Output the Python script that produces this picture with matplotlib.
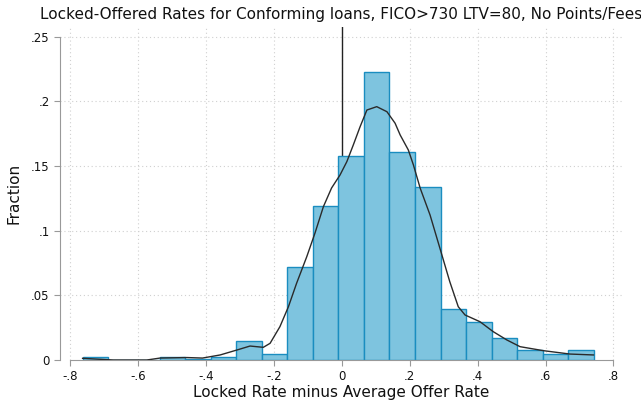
import matplotlib
matplotlib.use("Agg")
import matplotlib.pyplot as plt

# Histogram bins (left edge, width) and heights
bin_start = -0.762
bin_width = 0.0752
fractions = [0.002, 0.0, 0.0, 0.002, 0.001, 0.002, 0.0147, 0.005, 0.0717, 0.119,
             0.158, 0.223, 0.161, 0.1337, 0.0392, 0.0297, 0.0173, 0.0075, 0.0049, 0.0075]

# Kernel density curve points
kde_x = [-0.763, -0.673, -0.574, -0.535, -0.456, -0.41, -0.358, -0.309, -0.270, -0.231,
         -0.211, -0.182, -0.157, -0.133, -0.103, -0.079, -0.054, -0.030, -0.005, 0.015,
         0.034, 0.054, 0.074, 0.103, 0.133, 0.157, 0.172, 0.196, 0.211, 0.231,
         0.260, 0.289, 0.318, 0.343, 0.363, 0.407, 0.446, 0.486, 0.525, 0.594,
         0.672, 0.741]
kde_y = [0.0013, 0.0, 0.0, 0.0015, 0.0019, 0.0015, 0.0039, 0.0077, 0.0108, 0.0098,
         0.0129, 0.0258, 0.0412, 0.0593, 0.0799, 0.098, 0.1186, 0.133, 0.1431, 0.1534,
         0.1663, 0.1804, 0.1933, 0.1959, 0.192, 0.1831, 0.174, 0.1624, 0.1508, 0.1328,
         0.1121, 0.0864, 0.0606, 0.0412, 0.0348, 0.0296, 0.0219, 0.0155, 0.0103, 0.0072,
         0.0046, 0.0039]

xticks = [-0.8, -0.6, -0.4, -0.2, 0.0, 0.2, 0.4, 0.6, 0.8]
xticklabels = ["-.8", "-.6", "-.4", "-.2", "0", ".2", ".4", ".6", ".8"]
yticks = [0, 0.05, 0.1, 0.15, 0.2, 0.25]
yticklabels = ["0", ".05", ".1", ".15", ".2", ".25"]

title = "Locked-Offered Rates for Conforming loans, FICO>730 LTV=80, No Points/Fees"
xlabel = "Locked Rate minus Average Offer Rate"
ylabel = "Fraction"

W, H = 641, 401
fig = plt.figure(figsize=(W / 100, H / 100), dpi=100)
ax = fig.add_axes([60 / W, (H - 360) / H, (623 - 60) / W, (360 - 27) / H])

ax.set_xlim(-0.8295, 0.828)
ax.set_ylim(0, 0.2575)

# grid
for xt in xticks:
    ax.axvline(xt, color="#d0d0d0", lw=0.8, ls=(0, (1, 2.5)), zorder=0)
for yt in yticks[1:]:
    ax.axhline(yt, color="#d0d0d0", lw=0.8, ls=(0, (1, 2.5)), zorder=0)

# reference line at 0 (behind bars)
ax.axvline(0, color="#222222", lw=1.0, zorder=1)

lefts = [bin_start + i * bin_width for i in range(len(fractions))]
ax.bar(lefts, fractions, width=bin_width, align="edge", color="#7ec4df",
       edgecolor="#1a8dc0", linewidth=1.0, zorder=2)

ax.plot(kde_x, kde_y, color="#2a2a2a", lw=1.0, zorder=3)

for s in ["top", "right"]:
    ax.spines[s].set_visible(False)
ax.spines["left"].set_color("#999999")
ax.spines["bottom"].set_color("#999999")
ax.spines["left"].set_bounds(0, 0.25)
ax.spines["bottom"].set_bounds(-0.8, 0.8)

ax.set_xticks(xticks)
ax.set_xticklabels(xticklabels)
ax.set_yticks(yticks)
ax.set_yticklabels(yticklabels)
ax.tick_params(axis="both", colors="#999999", labelcolor="#111111", labelsize=8.5,
               length=4, width=0.8, direction="out")

fig.text(341.5 / W, 1 - 15 / H, title, ha="center", va="center", fontsize=11, color="#111111")
fig.text(341.5 / W, 1 - 393 / H, xlabel, ha="center", va="center", fontsize=11, color="#111111")
fig.text(14 / W, 1 - 193.5 / H, ylabel, ha="center", va="center", rotation=90,
         fontsize=11, color="#111111")

fig.savefig("out.png", dpi=100)
